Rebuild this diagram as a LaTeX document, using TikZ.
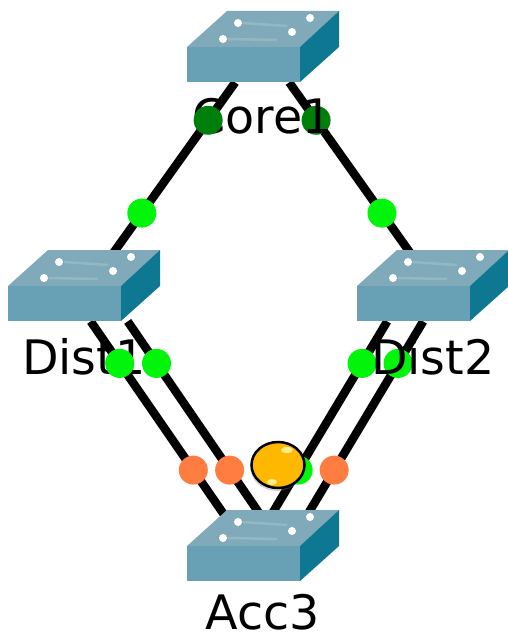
\documentclass[tikz,border=0pt]{standalone}
\usepackage{fontspec}
\setmainfont{DejaVu Sans}
\usetikzlibrary{positioning, backgrounds, shadows, shapes.geometric}
\definecolor{swtop}{RGB}{128,170,186}
\definecolor{swfront}{RGB}{104,160,181}
\definecolor{swside}{RGB}{14,120,146}
\definecolor{swline}{RGB}{146,184,196}
\definecolor{dotgreen}{RGB}{0,245,10}
\definecolor{dotdark}{RGB}{0,128,10}
\definecolor{dotorange}{RGB}{255,125,65}
\definecolor{pktyellow}{RGB}{255,184,0}
\definecolor{pktlight}{RGB}{255,236,140}
\tikzset{
  link/.style={line width=8.5pt, draw=black},
  dot/.style={circle, inner sep=0pt, minimum size=29pt, fill=#1},
  devlabel/.style={font=\fontsize{47.5}{47.5}\selectfont, inner sep=0pt, text=black, xshift=19pt},
  switch/.pic={
    \fill[swtop] (0,0) -- (40,-36) -- (152,-36) -- (113,0) -- cycle;
    \fill[swside] (113,0) -- (152,-36) -- (152,0) -- (113,35) -- cycle;
    \node[anchor=north west, inner sep=0pt, minimum width=113pt, minimum height=35pt, fill=swfront] (-front) at (0,0) {};
    \draw[swline, line width=2.5pt] (56,-24) -- (100,-21) (41,-8) -- (90,-7);
    \fill[white] (51,-24) circle (4) (123,-29) circle (4) (105,-15) circle (4) (36,-8) circle (4);
  },
}
\begin{document}
\begin{tikzpicture}[x=1pt, y=-1pt]
  \useasboundingbox (0,0) rectangle (507,639);
  \pic (core) at (187,47) {switch};
  \pic (dist1) at (8,286) {switch};
  \pic (dist2) at (357,286) {switch};
  \pic (acc3) at (187,546) {switch};
  \begin{scope}[on background layer]
  \path[link]
    ([xshift=45.5pt]core-front.south) edge node[pos=.186, dot=dotdark] (d3) {} node[pos=.642, dot=dotgreen] (d4) {} ([xshift=20pt]dist2-front.north);
  \node[devlabel, below=15.5pt of core-front] (corename) {Core1};
  \node[devlabel, below=17pt of dist1-front] (dist1name) {Dist1};
  \path[link]
    ([xshift=-8.5pt]core-front.south) edge node[pos=.186, dot=dotdark] (d1) {} node[pos=.642, dot=dotgreen] (d2) {} ([xshift=25pt]dist1-front.north)
    ([xshift=26pt]dist1-front.south) edge node[pos=.187, dot=dotgreen] (d5) {} node[pos=.662, dot=dotorange] (d6) {} ([xshift=2pt]acc3-front.north)
    ([xshift=63pt]dist1-front.south) edge node[pos=.187, dot=dotgreen] (d7) {} node[pos=.662, dot=dotorange] (d8) {} ([xshift=38pt]acc3-front.north)
    ([xshift=-26.5pt]dist2-front.south) edge node[pos=.187, dot=dotgreen] (d9) {} node[pos=.662, dot=dotgreen] (d10) {} ([xshift=9pt]acc3-front.north)
    ([xshift=9.5pt]dist2-front.south) edge node[pos=.187, dot=dotgreen] (d11) {} node[pos=.662, dot=dotorange] (d12) {} ([xshift=45pt]acc3-front.north);
  \end{scope}
  \node[devlabel, below=17pt of dist2-front] (dist2name) {Dist2};
  \node[devlabel, below=13pt of acc3-front] (acc3name) {Acc3};
  \node[ellipse, draw=black, line width=2.5pt, fill=pktyellow, inner sep=0pt, minimum width=53pt, minimum height=46pt,
    drop shadow={shadow xshift=-1pt, shadow yshift=-3pt, opacity=.35}] (packet) at (278,465) {};
  \fill[pktlight] ([xshift=9pt, yshift=15pt]packet.center) ellipse (6 and 3);
  \fill[pktlight] ([xshift=-6pt, yshift=-17pt]packet.center) ellipse (5 and 3);
\end{tikzpicture}
\end{document}
